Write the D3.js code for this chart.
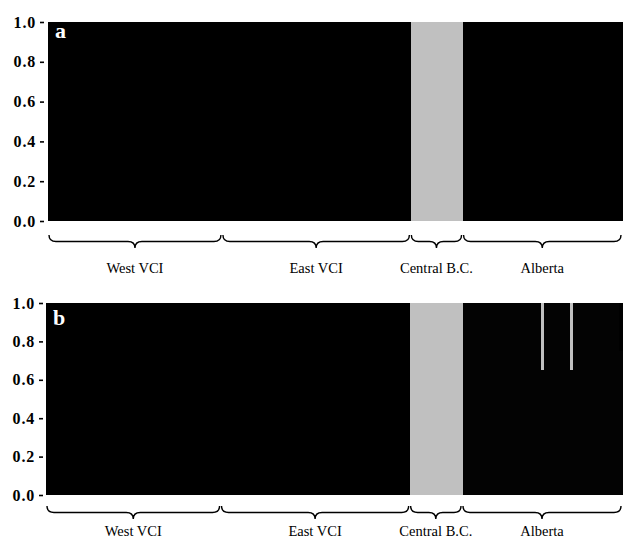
<!DOCTYPE html>
<html>
<head>
<meta charset="utf-8">
<script src="https://cdn.jsdelivr.net/npm/d3@7"></script>
<style>
  html, body { margin: 0; padding: 0; background: #fff; }
  svg { display: block; }
</style>
</head>
<body>
<script>
// ---------------- DATA ----------------
const populations = ["West VCI", "East VCI", "Central B.C.", "Alberta"];
const tickValues = [0.0, 0.2, 0.4, 0.6, 0.8, 1.0];
const clusterNames = ["cluster1", "cluster2", "cluster3"];
const clusterColors = ["#000000", "#c0c0c0", "#030303"];

// Panel a (two clusters): proportion of grey cluster per individual
const aWestGrey = [
  0,0,0,0,0,0,0,0,0,0, 0,0,0,0,0,0,0,0,0,0, 0,0,0,0,0,0,0,0,0,0,
  0,0,0,0,0,0,0,0,0,0, 0,0,0,0,0,0,0,0,0,0, 0,0,0,0,0,0,0,0,0,0];
const aEastGrey = [
  0,0,0,0,0,0,0,0,0,0, 0,0,0,0,0,0,0,0,0,0, 0,0,0,0,0,0,0,0,0,0,
  0,0,0,0,0,0,0,0,0,0, 0,0,0,0,0,0,0,0,0,0, 0,0,0,0,0,0,0,0,0,0, 0,0,0,0,0];
const aCentralGrey = [1,1,1,1,1,1,1,1,1,1, 1,1,1,1,1,1,1,1];
const aAlbertaGrey = [
  0,0,0,0,0,0,0,0,0,0, 0,0,0,0,0,0,0,0,0,0, 0,0,0,0,0,0,0,0,0,0,
  0,0,0,0,0,0,0,0,0,0, 0,0,0,0,0,0,0,0,0,0, 0,0,0,0,0];

// Panel b (three clusters): grey cluster and Alberta cluster per individual
const bWestGrey = [
  0,0,0,0,0,0,0,0,0,0, 0,0,0,0,0,0,0,0,0,0, 0,0,0,0,0,0,0,0,0,0,
  0,0,0,0,0,0,0,0,0,0, 0,0,0,0,0,0,0,0,0,0, 0,0,0,0,0,0,0,0,0,0];
const bEastGrey = [
  0,0,0,0,0,0,0,0,0,0, 0,0,0,0,0,0,0,0,0,0, 0,0,0,0,0,0,0,0,0,0,
  0,0,0,0,0,0,0,0,0,0, 0,0,0,0,0,0,0,0,0,0, 0,0,0,0,0,0,0,0,0,0, 0,0,0,0,0];
const bCentralGrey = [1,1,1,1,1,1,1,1,1,1, 1,1,1,1,1,1,1,1];
const bAlbertaGrey = [
  0,0,0,0,0,0,0,0,0,0, 0,0,0,0,0,0,0,0,0,0, 0,0,0,0,0,0,0,0.35,0,0,
  0,0,0,0,0,0,0,0.35,0,0, 0,0,0,0,0,0,0,0,0,0, 0,0,0,0,0];
const bAlbertaK3 = [
  1,1,1,1,1,1,1,1,1,1, 1,1,1,1,1,1,1,1,1,1, 1,1,1,1,1,1,1,0.65,1,1,
  1,1,1,1,1,1,1,0.65,1,1, 1,1,1,1,1,1,1,1,1,1, 1,1,1,1,0.75];

// ---------------- BUILD ----------------
function buildIndividuals(greyArrays, k3Arrays) {
  const out = [];
  greyArrays.forEach((arr, p) => {
    arr.forEach((g, i) => {
      const k3 = k3Arrays[p] ? k3Arrays[p][i] : 0;
      out.push({ id: out.length, pop: populations[p],
        cluster3: k3, cluster2: g, cluster1: Math.max(0, 1 - g - k3) });
    });
  });
  return out;
}

const panelA = buildIndividuals([aWestGrey, aEastGrey, aCentralGrey, aAlbertaGrey], [null, null, null, null]);
const panelB = buildIndividuals([bWestGrey, bEastGrey, bCentralGrey, bAlbertaGrey], [null, null, null, bAlbertaK3]);

const serif = "'Liberation Serif', 'DejaVu Serif', serif";
const svg = d3.select("body").append("svg").attr("width", 625).attr("height", 542);

const panels = [
  { letter: "a", data: panelA, x0: 48, x1: 622, top: 22, bottom: 221, axisX: 44, braceY: 235, labelY: 273, letterY: 38 },
  { letter: "b", data: panelB, x0: 46, x1: 622, top: 303, bottom: 495, axisX: 43, braceY: 506, labelY: 536, letterY: 325 }
];

function bracePath(x1, x2, y, h) {
  const mid = (x1 + x2) / 2, hm = y + h * 0.5, r = 7;
  return `M${x1},${y} Q${x1},${hm} ${x1 + r},${hm} L${mid - r},${hm} Q${mid},${hm} ${mid},${y + h} ` +
         `Q${mid},${hm} ${mid + r},${hm} L${x2 - r},${hm} Q${x2},${hm} ${x2},${y}`;
}

panels.forEach(pn => {
  const g = svg.append("g");
  const x = d3.scaleBand().domain(pn.data.map(d => d.id)).range([pn.x0, pn.x1]).padding(0);
  const y = d3.scaleLinear().domain([0, 1]).range([pn.bottom, pn.top]);

  // stack: Alberta cluster at bottom, grey, then black
  const stack = d3.stack().keys(["cluster3", "cluster2", "cluster1"]);
  const series = stack(pn.data);
  const colorOf = { cluster1: clusterColors[0], cluster2: clusterColors[1], cluster3: clusterColors[2] };

  g.selectAll("g.layer").data(series).join("g")
    .attr("class", "layer")
    .attr("fill", s => colorOf[s.key])
    .attr("shape-rendering", "crispEdges")
    .selectAll("rect")
    .data(s => s.filter(d => d[1] - d[0] > 0))
    .join("rect")
    .attr("x", d => x(d.data.id))
    .attr("width", x.bandwidth() + 0.6)
    .attr("y", d => y(d[1]))
    .attr("height", d => y(d[0]) - y(d[1]));

  // y axis
  const axis = d3.axisLeft(y).tickValues(tickValues).tickFormat(d3.format(".1f")).tickSize(4).tickPadding(4);
  const ag = g.append("g").attr("transform", `translate(${pn.axisX},0)`).call(axis)
    .attr("font-family", serif).attr("font-size", 16).attr("font-weight", "bold");
  ag.select(".domain").remove();
  ag.selectAll(".tick line").attr("stroke", "#000").attr("stroke-width", 1.6);
  ag.selectAll(".tick text")
    .attr("fill", "#000")
    .attr("font-family", serif)
    .attr("font-weight", "bold")
    .attr("font-size", 16)
    .attr("letter-spacing", 0.8);

  // panel letter
  g.append("text")
    .attr("x", pn.x0 + 7)
    .attr("y", pn.letterY)
    .attr("fill", "#fff")
    .attr("font-family", serif)
    .attr("font-weight", "bold")
    .attr("font-size", 22)
    .text(pn.letter);

  // braces and population labels
  populations.forEach(p => {
    const members = pn.data.filter(d => d.pop === p);
    const xs = x(members[0].id);
    const xe = x(members[members.length - 1].id) + x.bandwidth();
    g.append("path")
      .attr("d", bracePath(xs + 1, xe - 1, pn.braceY, 13))
      .attr("fill", "none")
      .attr("stroke", "#000")
      .attr("stroke-width", 1.4);
    g.append("text")
      .attr("x", (xs + xe) / 2)
      .attr("y", pn.labelY)
      .attr("text-anchor", "middle")
      .attr("fill", "#000")
      .attr("font-family", serif)
      .attr("font-size", 14.5)
      .text(p);
  });
});
</script>
</body>
</html>
